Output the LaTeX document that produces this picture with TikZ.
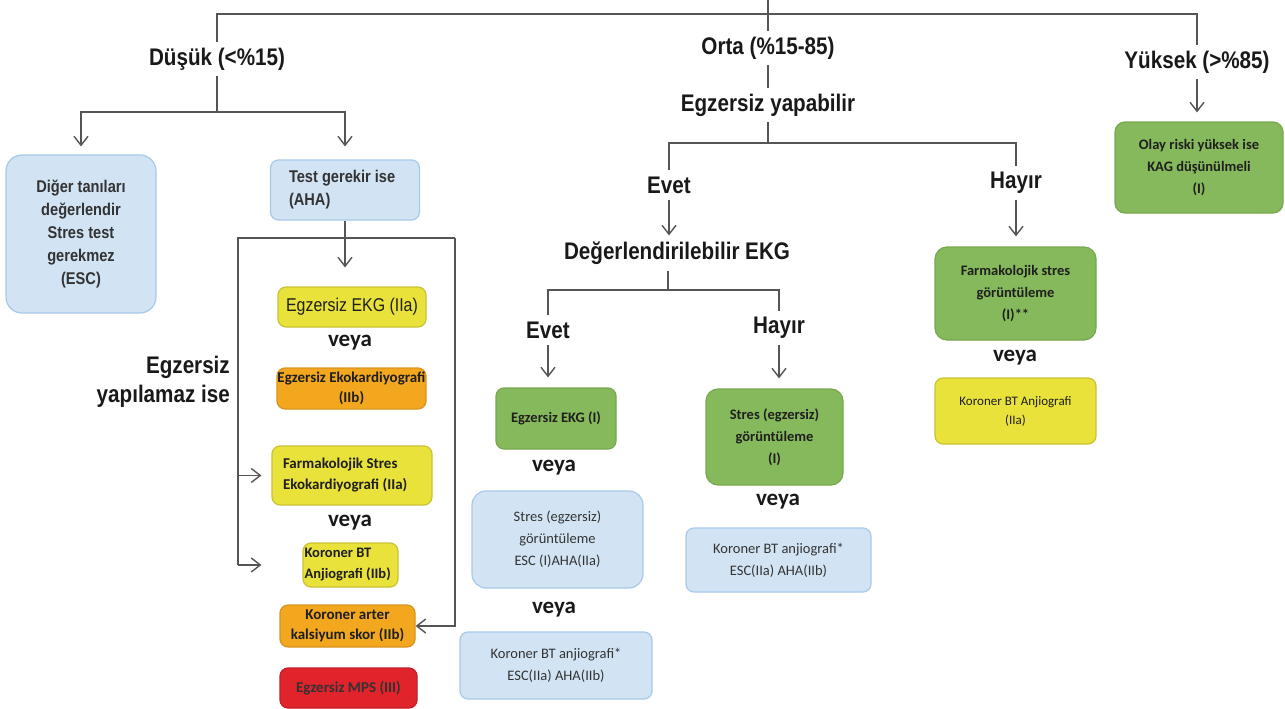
\documentclass[tikz,border=0pt]{standalone}
\usepackage{fontspec}
\setmainfont{Carlito}
\newfontfamily\hd[FakeStretch=0.86]{Liberation Sans}
\usetikzlibrary{arrows.meta}
\definecolor{lineg}{HTML}{555555}
\definecolor{bluef}{HTML}{D2E4F4}
\definecolor{blued}{HTML}{A8C9E8}
\definecolor{greenf}{HTML}{86B95B}
\definecolor{greend}{HTML}{76A84E}
\definecolor{yelf}{HTML}{E9E23A}
\definecolor{yeld}{HTML}{C9C234}
\definecolor{orf}{HTML}{F2A71F}
\definecolor{ord}{HTML}{D99320}
\definecolor{redf}{HTML}{E1232B}
\definecolor{redd}{HTML}{C21E25}
\begin{document}
\begin{tikzpicture}[x=1pt,y=-1pt,
  conn/.style={draw=lineg,line width=1.4pt},
  arr/.style={conn,-{Straight Barb[length=9pt,width=14pt]}},
  head/.style={font=\hd\bfseries\fontsize{24}{28}\selectfont,text=black!90,inner sep=6pt,align=center},
  veya/.style={font=\bfseries\fontsize{23}{26}\selectfont,text=black!90,inner sep=1pt},
  box/.style={rounded corners=8pt,line width=1.2pt,align=center,inner sep=0pt},
  bbox/.style={box,draw=blued,fill=bluef,text=black!80,font=\fontsize{14.5}{22}\selectfont},
  gbox/.style={box,draw=greend,fill=greenf,text=black!88,font=\bfseries\fontsize{14.5}{22}\selectfont},
  ybox/.style={box,draw=yeld,fill=yelf,text=black!88,font=\bfseries\fontsize{15}{21}\selectfont},
  obox/.style={box,draw=ord,fill=orf,text=black!88,font=\bfseries\fontsize{15}{20.5}\selectfont},
  rbox/.style={box,draw=redd,fill=redf,text=black!80,font=\bfseries\fontsize{15}{20}\selectfont}
]
\useasboundingbox (0,0) rectangle (1285,709);

% ---- risk levels ----
\coordinate (top) at (768,0);
\coordinate (tl) at (217,14);
\node[head] (dusuk) at (217,59) {Düşük (<\%15)};
\node[head] (orta) at (768,48) {Orta (\%15-85)};
\node[head] (yuksek) at (1197,62) {Yüksek (>\%85)};
\draw[conn] (dusuk.north) |- (top |- tl) -| (yuksek.north);
\draw[conn] (top) -- (orta.north);

% ---- low probability branch ----
\node[bbox,rounded corners=16pt,minimum width=150,minimum height=158,
      font=\hd\bfseries\fontsize{17}{23}\selectfont] (diger) at (81,234)
  {Diğer tanıları\\değerlendir\\Stres test\\gerekmez\\(ESC)};
\node[bbox,minimum width=149,minimum height=60,text width=112,align=flush left,
      font=\hd\bfseries\fontsize{17}{23}\selectfont] (test) at (345,190)
  {Test gerekir ise\\(AHA)};
\coordinate (dj) at (219,112);
\draw[conn] (dusuk.south) -- (dusuk.south |- dj);
\draw[arr,shorten >=8pt] (dj) -| (diger.north);
\draw[arr,shorten >=13pt] (dj) -| (test.north);

\node[ybox,minimum width=148,minimum height=40,
      font=\hd\fontsize{18.5}{22}\selectfont] (ekg2a) at (352,307) {Egzersiz EKG (IIa)};
\node[veya] (veyaA) at (350,343) {veya};
\node[obox,minimum width=149,minimum height=41] (eko) at (351.5,388.5)
  {Egzersiz Ekokardiyografi\\(IIb)};
\node[head,anchor=east,align=right,font=\hd\bfseries\fontsize{24}{29}\selectfont] (yapil) at (236,382)
  {Egzersiz\\yapılamaz ise};
\node[ybox,minimum width=160,minimum height=59,text width=138,align=flush left] (fse) at (352,475.5)
  {Farmakolojik Stres\\Ekokardiyografi (IIa)};
\node[veya] (veyaB) at (350,523) {veya};
\node[ybox,minimum width=95,minimum height=44,text width=92,align=flush left,
      font=\bfseries\fontsize{14.5}{21}\selectfont] (kbt) at (350.5,565)
  {Koroner BT\\Anjiografi (IIb)};
\node[obox,minimum width=135,minimum height=42] (kal) at (347.5,626)
  {Koroner arter\\kalsiyum skor (IIb)};
\node[rbox,minimum width=137,minimum height=40] (mps) at (348.5,688) {Egzersiz MPS (III)};

\draw[arr,shorten >=19pt] (test.south) -- (test.south |- ekg2a.north);
\coordinate (bl) at (238,238);
\coordinate (br) at (455,238);
\draw[conn] (bl |- kbt.west) -- (bl) -- (br);
\draw[arr,shorten >=10pt] (bl |- fse.west) -- (fse.west);
\draw[arr,shorten >=41pt] (bl |- kbt.west) -- (kbt.west);
\draw[arr] (br) |- (kal.east);

% ---- intermediate probability branch ----
\node[head] (eyap) at (768,105) {Egzersiz yapabilir};
\node[head] (evet1) at (669,185) {Evet};
\node[head] (hayir1) at (1016,183) {Hayır};
\node[head] (deg) at (677,253) {Değerlendirilebilir EKG};
\node[head] (evet2) at (548,330) {Evet};
\node[head] (hayir2) at (779,328) {Hayır};
\coordinate (mj) at (768,143);
\coordinate (dj2) at (668,290);
\draw[conn] (orta.south) -- (eyap.north);
\draw[conn] (eyap.south) -- (mj);
\draw[conn] (evet1.north) |- (mj) -| (hayir1.north);
\draw[arr] (evet1.south) -- (evet1.south |- deg.north);
\draw[conn] (deg.south -| dj2) -- (dj2);
\draw[conn] (evet2.north) |- (dj2) -| (hayir2.north);

\node[gbox,minimum width=120,minimum height=61] (ekg1) at (556,418.5) {Egzersiz EKG (I)};
\node[veya] (veyaC) at (554,468) {veya};
\node[bbox,rounded corners=14pt,minimum width=171,minimum height=97] (stres1) at (557.5,539.5)
  {Stres (egzersiz)\\görüntüleme\\ESC (I)AHA(IIa)};
\node[veya] (veyaD) at (554,610) {veya};
\node[bbox,minimum width=192,minimum height=67] (kbt1) at (556,665.5)
  {Koroner BT anjiografi*\\ESC(IIa) AHA(IIb)};

\node[gbox,rounded corners=12pt,minimum width=137,minimum height=96] (stres2) at (774.5,437)
  {Stres (egzersiz)\\görüntüleme\\(I)};
\node[veya] (veyaE) at (778,502) {veya};
\node[bbox,minimum width=185,minimum height=64] (kbt2) at (778.5,560)
  {Koroner BT anjiografi*\\ESC(IIa) AHA(IIb)};

\node[gbox,rounded corners=12pt,minimum width=161,minimum height=93] (farm) at (1015.5,293.5)
  {Farmakolojik stres\\görüntüleme\\(I)**};
\node[veya] (veyaF) at (1015,358) {veya};
\node[ybox,minimum width=161,minimum height=66,font=\fontsize{13}{19}\selectfont] (kbt3) at (1015.5,411)
  {Koroner BT Anjiografi\\(IIa)};

\draw[arr,shorten >=10pt] (evet2.south) -- (evet2.south |- ekg1.north);
\draw[arr,shorten >=10pt] (hayir2.south) -- (hayir2.south |- stres2.north);
\draw[arr,shorten >=10pt] (hayir1.south) -- (hayir1.south |- farm.north);

% ---- high probability branch ----
\node[gbox,rounded corners=10pt,minimum width=168,minimum height=91] (olay) at (1199,167.5)
  {Olay riski yüksek ise\\KAG düşünülmeli\\(I)};
\draw[arr,shorten >=9pt] (yuksek.south) -- (yuksek.south |- olay.north);
\end{tikzpicture}
\end{document}
